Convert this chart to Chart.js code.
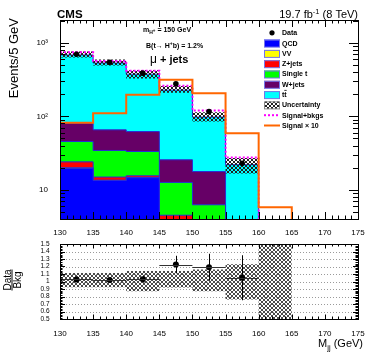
<!DOCTYPE html>
<html><head><meta charset="utf-8">
<script src="https://cdn.jsdelivr.net/npm/chart.js@4"></script>
<style>
html,body{margin:0;padding:0;background:#fff;}
#wrap{position:relative;width:374px;height:359px;overflow:hidden;}
#c1{position:absolute;left:0;top:0;}
#c2{position:absolute;left:0;top:236px;}
</style></head><body>
<div id="wrap"><canvas id="c1" width="374" height="236"></canvas><canvas id="c2" width="374" height="123"></canvas></div>
<script>
// ---------------- data ----------------
const binEdges = [130, 135, 140, 145, 150, 155, 160, 165, 170, 175];
const qcd      = [19.7, 13.4, 14.6, 3.5, 2.0, 0.3, 0, 0, 0];
const vv       = [0.2, 0.1, 0.1, 0.1, 0.1, 0.05, 0, 0, 0];
const zjets    = [4.1, 1.4, 0.8, 0.9, 0.3, 0.1, 0, 0, 0];
const singleT  = [21.4, 19.4, 17.7, 8.1, 3.85, 1.0, 0, 0, 0];
const wjets    = [35.3, 31.2, 28.8, 13.0, 11.45, 1.5, 0, 0, 0];
const ttbar    = [604, 466, 313, 202, 80, 19, 0, 0, 0];
const dataVals = [702, 543, 387, 277, 116, 23];
const signalX10     = [82, 110, 196, 314, 207, 59, 5.8, 0, 0];
const signalPlusBkg = [745, 568, 418, 260, 120, 27.5, 0, 0, 0];
const ratioVals = [1.027, 1.02, 1.03, 1.226, 1.19, 1.05];
const ratioErrs = [0.04, 0.04, 0.045, 0.117, 0.18, 0.30];
const uncLow  = [0.925, 0.925, 0.87, 0.92, 0.87, 0.76, 0.5];
const uncHigh = [1.115, 1.115, 1.14, 1.14, 1.16, 1.23, 1.5];
const xTickValues = [130, 135, 140, 145, 150, 155, 160, 165, 170, 175];
const yTickValues = [10, 100, 1000];
const yTickLabels = ['10', '10\u00B2', '10\u00B3'];
const ratioTickValues = [0.5, 0.6, 0.7, 0.8, 0.9, 1.0, 1.1, 1.2, 1.3, 1.4, 1.5];
const legendLabels = ['Data', 'QCD', 'VV', 'Z+jets', 'Single t', 'W+jets', 'tt', 'Uncertainty', 'Signal+bkgs', 'Signal \u00D7 10'];

// ---------------- helpers ----------------
const FONT = "'Liberation Sans', Arial, Helvetica, sans-serif";
const FLOOR = 1e-3;
const layerColors = ['#0000ff', '#ffff00', '#ff0000', '#00ff00', '#660066', '#00ffff'];
function stepPoints(vals) {
  const pts = [];
  for (let i = 0; i < vals.length; i++) pts.push({x: binEdges[i], y: vals[i] > 0 ? vals[i] : FLOOR});
  pts.push({x: binEdges[vals.length], y: pts[pts.length - 1].y});
  return pts;
}
function hatch(color) {
  const c = document.createElement('canvas'); c.width = 4; c.height = 4;
  const g = c.getContext('2d'); g.fillStyle = color;
  for (let i = 0; i < 4; i++) { g.fillRect(i, i, 1, 1); g.fillRect(3 - i, i, 1, 1); }
  return g.createPattern(c, 'repeat');
}
function seg(ctx, x1, y1, x2, y2) { ctx.beginPath(); ctx.moveTo(x1, y1); ctx.lineTo(x2, y2); ctx.stroke(); }
function fnt(size, bold) { return (bold ? 'bold ' : '') + size + 'px ' + FONT; }
function rich(ctx, parts, x, y, align) {
  let total = 0;
  parts.forEach(p => { ctx.font = fnt(p.s, p.b); p.w = ctx.measureText(p.t).width; total += p.w; });
  let cx = align === 'right' ? x - total : x;
  parts.forEach(p => { ctx.font = fnt(p.s, p.b); ctx.textAlign = 'left'; ctx.fillText(p.t, cx, y + (p.dy || 0)); cx += p.w; });
}

const layers = [qcd, vv, zjets, singleT, wjets, ttbar];
const cum = []; let run = binEdges.slice(0, -1).map(() => 0);
layers.forEach(l => { run = run.map((r, i) => r + l[i]); cum.push(run.slice()); });
const totals = cum[cum.length - 1];
const nFilled = totals.filter(t => t > 0).length;
const bandHiMain = totals.slice(0, nFilled).map((t, i) => t * uncHigh[i]);
const bandLoMain = totals.slice(0, nFilled).map((t, i) => t * uncLow[i]);
const centers = binEdges.slice(0, -1).map((e, i) => (e + binEdges[i + 1]) / 2);
const hatchMain = hatch('#202020');
const hatchRatio = hatch('#4a4a4a');

const lineBase = {pointRadius: 0, stepped: true, clip: 0, tension: 0};

// ---------------- main chart plugin ----------------
const mainDeco = {
  id: 'mainDeco',
  afterDatasetsDraw(chart) {
    const {ctx, chartArea: a, scales} = chart;
    ctx.save();
    ctx.strokeStyle = '#000'; ctx.lineWidth = 1;
    for (let v = 130; v <= 175; v++) {
      const px = Math.round(scales.x.getPixelForValue(v)) + 0.5;
      const len = v % 5 === 0 ? 7 : 3.5;
      seg(ctx, px, a.bottom, px, a.bottom - len);
      seg(ctx, px, a.top, px, a.top + len);
    }
    [1, 10, 100, 1000].forEach(d => {
      for (let k = 1; k <= 9; k++) {
        const v = k * d;
        if (v < scales.y.min || v > scales.y.max) continue;
        const py = Math.round(scales.y.getPixelForValue(v)) + 0.5;
        const len = k === 1 ? 9 : 5;
        seg(ctx, a.left, py, a.left + len, py);
        seg(ctx, a.right, py, a.right - len, py);
      }
    });
    ctx.strokeRect(Math.round(a.left) + 0.5, Math.round(a.top) + 0.5, Math.round(a.right - a.left), Math.round(a.bottom - a.top));
    ctx.restore();
  },
  afterDraw(chart) {
    const ctx = chart.ctx;
    ctx.save();
    ctx.fillStyle = '#000';
    ctx.textBaseline = 'alphabetic';
    ctx.font = fnt(11.5, true); ctx.textAlign = 'left';
    ctx.fillText('CMS', 57, 17.5);
    rich(ctx, [{t: '19.7 fb', s: 11}, {t: '-1', s: 7.5, dy: -4}, {t: ' (8 TeV)', s: 11}], 358, 17.5, 'right');
    rich(ctx, [{t: 'm', s: 7, b: true}, {t: 'H', s: 5, b: true, dy: 2}, {t: '+', s: 4.5, b: true, dy: 0}, {t: ' = 150 GeV', s: 7, b: true}], 143, 32);
    rich(ctx, [{t: 'B(t\u2192 H', s: 7, b: true}, {t: '+', s: 5, b: true, dy: -3}, {t: 'b) = 1.2%', s: 7, b: true}], 146, 48);
    rich(ctx, [{t: '\u03BC', s: 12}, {t: ' + jets', s: 11, b: true}], 150, 63);
    ctx.save();
    ctx.translate(17.5, 18); ctx.rotate(-Math.PI / 2);
    ctx.font = fnt(13, false); ctx.textAlign = 'right';
    ctx.fillText('Events/5 GeV', 0, 0);
    ctx.restore();
    const lx = 264, bw = 16, tx = 282, y0 = 32.8, dy = 10.3;
    legendLabels.forEach((lab, i) => {
      const y = y0 + i * dy;
      ctx.lineWidth = 1;
      if (i === 0) {
        ctx.fillStyle = '#000'; ctx.beginPath(); ctx.arc(lx + bw / 2, y, 2.6, 0, Math.PI * 2); ctx.fill();
      } else if (i >= 1 && i <= 6) {
        ctx.fillStyle = layerColors[i - 1];
        ctx.fillRect(lx, y - 3.5, bw, 7.5);
        ctx.strokeStyle = '#7575e8'; ctx.strokeRect(lx + 0.5, y - 3.5 + 0.5, bw - 1, 7);
      } else if (i === 7) {
        ctx.fillStyle = '#fff'; ctx.fillRect(lx, y - 3.5, bw, 7.5);
        ctx.fillStyle = hatchMain; ctx.fillRect(lx, y - 3.5, bw, 7.5);
        ctx.strokeStyle = '#888'; ctx.strokeRect(lx + 0.5, y - 3.5 + 0.5, bw - 1, 7);
      } else if (i === 8) {
        ctx.strokeStyle = '#ff00ff'; ctx.lineWidth = 2; ctx.setLineDash([2, 2]);
        seg(ctx, lx, y, lx + bw, y); ctx.setLineDash([]);
      } else {
        ctx.strokeStyle = '#ff6600'; ctx.lineWidth = 2;
        seg(ctx, lx, y, lx + bw, y);
      }
      ctx.fillStyle = '#000';
      ctx.font = fnt(7, true); ctx.textAlign = 'left'; ctx.textBaseline = 'middle';
      ctx.fillText(lab, tx, y + 0.5);
      if (i === 6) {
        const wt = ctx.measureText('t').width;
        ctx.lineWidth = 0.8; ctx.strokeStyle = '#000';
        seg(ctx, tx + wt, y - 4.2, tx + 2 * wt, y - 4.2);
      }
      ctx.textBaseline = 'alphabetic';
    });
    ctx.restore();
  }
};

const mainDatasets = [
  {data: dataVals.map((v, i) => ({x: centers[i], y: v})), showLine: false, pointRadius: 2.8,
   pointBackgroundColor: '#000', pointBorderColor: '#000', pointBorderWidth: 0, fill: false},
  {...lineBase, data: stepPoints(signalX10), borderColor: '#ff6600', borderWidth: 2, fill: false},
  {...lineBase, data: stepPoints(signalPlusBkg), borderColor: '#ff00ff', borderWidth: 2, borderDash: [2, 2], fill: false},
  {...lineBase, data: stepPoints(bandHiMain), borderColor: 'rgba(0,0,0,0)', borderWidth: 1, fill: {target: 4}, backgroundColor: hatchMain},
  {...lineBase, data: stepPoints(bandLoMain), borderColor: 'rgba(0,0,0,0)', borderWidth: 1, fill: false}
];
cum.forEach((c, k) => {
  mainDatasets.push({...lineBase, data: stepPoints(c), borderColor: '#2a2ad6', borderWidth: 1, fill: 'start', backgroundColor: layerColors[k]});
});

new Chart(document.getElementById('c1'), {
  type: 'line',
  data: {datasets: mainDatasets},
  options: {
    responsive: false, animation: false, events: [],
    layout: {padding: {left: 0, right: 16, top: 20, bottom: 0}},
    plugins: {legend: {display: false}, tooltip: {enabled: false}, filler: {propagate: false}},
    scales: {
      x: {type: 'linear', min: 130, max: 175, grid: {display: false}, border: {display: false},
          afterFit: s => { s.height = 17; },
          afterBuildTicks: s => { s.ticks = xTickValues.map(v => ({value: v})); },
          ticks: {font: {family: FONT, size: 8}, color: '#000', padding: 1, maxRotation: 0, autoSkip: false, callback: v => String(v)}},
      y: {type: 'logarithmic', min: 4, max: 2050, grid: {display: false}, border: {display: false},
          afterFit: s => { s.width = 60; },
          afterBuildTicks: s => { s.ticks = yTickValues.map(v => ({value: v})); },
          ticks: {font: {family: FONT, size: 8}, color: '#000', padding: 4, autoSkip: false,
                  callback: v => { const i = yTickValues.indexOf(v); return i >= 0 ? yTickLabels[i] : ''; }}}
    }
  },
  plugins: [mainDeco]
});

// ---------------- ratio chart ----------------
const ratioDeco = {
  id: 'ratioDeco',
  beforeDatasetsDraw(chart) {
    const {ctx, chartArea: a, scales} = chart;
    ctx.save();
    ctx.strokeStyle = '#9a9a9a'; ctx.lineWidth = 1; ctx.setLineDash([1, 2]);
    ratioTickValues.slice(1, -1).forEach(v => {
      const py = Math.round(scales.y.getPixelForValue(v)) + 0.5;
      seg(ctx, a.left, py, a.right, py);
    });
    ctx.restore();
  },
  afterDatasetsDraw(chart) {
    const {ctx, chartArea: a, scales} = chart;
    ctx.save();
    ctx.strokeStyle = '#000'; ctx.lineWidth = 1;
    ratioVals.forEach((r, i) => {
      const px = Math.round(scales.x.getPixelForValue(centers[i])) + 0.5;
      const py = Math.round(scales.y.getPixelForValue(r)) + 0.5;
      seg(ctx, px, scales.y.getPixelForValue(r - ratioErrs[i]), px, scales.y.getPixelForValue(r + ratioErrs[i]));
      ctx.strokeStyle = '#333';
      seg(ctx, scales.x.getPixelForValue(binEdges[i]), py, scales.x.getPixelForValue(binEdges[i + 1]), py);
      ctx.strokeStyle = '#000';
    });
    for (let v = 130; v <= 175; v++) {
      const px = Math.round(scales.x.getPixelForValue(v)) + 0.5;
      const len = v % 5 === 0 ? 4.5 : 2.5;
      seg(ctx, px, a.bottom, px, a.bottom - len);
      seg(ctx, px, a.top, px, a.top + len);
    }
    for (let k = 0; k <= 50; k++) {
      const v = 0.5 + k * 0.02;
      const py = Math.round(scales.y.getPixelForValue(v)) + 0.5;
      const len = k % 5 === 0 ? 5 : 2.5;
      seg(ctx, a.left, py, a.left + len, py);
      seg(ctx, a.right, py, a.right - len, py);
    }
    ctx.strokeRect(Math.round(a.left) + 0.5, Math.round(a.top) + 0.5, Math.round(a.right - a.left), Math.round(a.bottom - a.top));
    ctx.restore();
  },
  afterDraw(chart) {
    const ctx = chart.ctx;
    ctx.save();
    ctx.fillStyle = '#000'; ctx.strokeStyle = '#000';
    rich(ctx, [{t: 'M', s: 11}, {t: 'jj', s: 7.5, dy: 2.5}, {t: ' (GeV)', s: 11}], 363, 111, 'right');
    ctx.translate(12, 44); ctx.rotate(-Math.PI / 2);
    ctx.font = fnt(10, false); ctx.textAlign = 'center';
    ctx.textBaseline = 'alphabetic';
    ctx.fillText('Data', 0, -1.5);
    ctx.textBaseline = 'top';
    ctx.fillText('Bkg', 0, 1.5);
    ctx.lineWidth = 1;
    seg(ctx, -10.5, 0, 10.5, 0);
    ctx.restore();
  }
};

new Chart(document.getElementById('c2'), {
  type: 'line',
  data: {datasets: [
    {data: ratioVals.map((v, i) => ({x: centers[i], y: v})), showLine: false, pointRadius: 3,
     pointBackgroundColor: '#000', pointBorderColor: '#000', pointBorderWidth: 0, fill: false},
    {...lineBase, data: stepPoints(uncHigh), borderColor: 'rgba(0,0,0,0)', borderWidth: 1, fill: {target: 2}, backgroundColor: hatchRatio},
    {...lineBase, data: stepPoints(uncLow), borderColor: 'rgba(0,0,0,0)', borderWidth: 1, fill: false}
  ]},
  options: {
    responsive: false, animation: false, events: [],
    layout: {padding: {left: 0, right: 16, top: 8, bottom: 0}},
    plugins: {legend: {display: false}, tooltip: {enabled: false}, filler: {propagate: false}},
    scales: {
      x: {type: 'linear', min: 130, max: 175, grid: {display: false}, border: {display: false},
          afterFit: s => { s.height = 40; },
          afterBuildTicks: s => { s.ticks = xTickValues.map(v => ({value: v})); },
          ticks: {font: {family: FONT, size: 8}, color: '#000', padding: 2, maxRotation: 0, autoSkip: false, callback: v => String(v)}},
      y: {type: 'linear', min: 0.5, max: 1.5, grid: {display: false}, border: {display: false},
          afterFit: s => { s.width = 60; },
          afterBuildTicks: s => { s.ticks = ratioTickValues.map(v => ({value: v})); },
          ticks: {font: {family: FONT, size: 6.5}, color: '#000', padding: 2.5, autoSkip: false,
                  callback: v => String(Math.round(v * 10) / 10)}}
    }
  },
  plugins: [ratioDeco]
});
</script>
</body></html>
